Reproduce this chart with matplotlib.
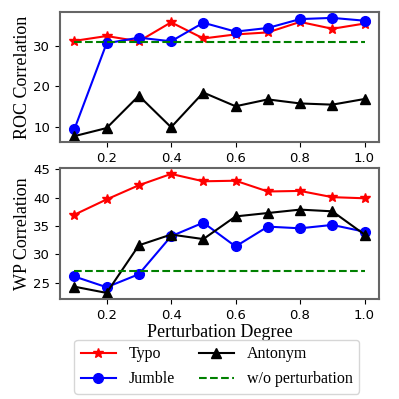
import matplotlib
matplotlib.use("Agg")
import matplotlib.pyplot as plt

degree = [0.1, 0.2, 0.3, 0.4, 0.5, 0.6, 0.7, 0.8, 0.9, 1.0]

roc_typo = [31.3, 32.5, 31.2, 35.9, 31.9, 32.9, 33.4, 36.0, 34.3, 35.6]
roc_jumble = [9.4, 30.7, 32.1, 31.2, 35.8, 33.6, 34.5, 36.7, 37.0, 36.3]
roc_antonym = [7.7, 9.7, 17.7, 9.9, 18.5, 15.1, 16.8, 15.8, 15.5, 16.9]
roc_base = 31.0

wp_typo = [37.0, 39.7, 42.2, 44.2, 42.9, 43.0, 41.1, 41.2, 40.1, 39.9]
wp_jumble = [26.1, 24.2, 26.5, 33.2, 35.6, 31.4, 34.9, 34.6, 35.2, 34.0]
wp_antonym = [24.3, 23.2, 31.6, 33.5, 32.7, 36.7, 37.3, 37.9, 37.6, 33.5]
wp_base = 27.0

serif = "Liberation Serif"

fig = plt.figure(figsize=(3.99, 3.99), dpi=100)
ax1 = fig.add_axes([0.150, 0.644, 0.800, 0.326])
ax2 = fig.add_axes([0.150, 0.251, 0.800, 0.328])


def draw(ax, typo, jumble, antonym, base, ylabel):
    ax.plot(degree, typo, color="red", marker="*", markersize=7, lw=1.5, label="Typo")
    ax.plot(degree, jumble, color="blue", marker="o", markersize=7, lw=1.5, label="Jumble")
    ax.plot(degree, antonym, color="black", marker="^", markersize=7, lw=1.5, label="Antonym")
    ax.plot(degree, [base] * len(degree), color="green", ls="--", lw=1.5, label="w/o perturbation")
    ax.set_ylabel(ylabel, fontsize=13, family=serif, labelpad=1.5)
    ax.set_xticks([0.2, 0.4, 0.6, 0.8, 1.0])
    ax.tick_params(labelsize=9.5)
    for s in ax.spines.values():
        s.set_color("#666666")
        s.set_linewidth(1.5)


draw(ax1, roc_typo, roc_jumble, roc_antonym, roc_base, "ROC Correlation")
ax1.set_yticks([10, 20, 30])
draw(ax2, wp_typo, wp_jumble, wp_antonym, wp_base, "WP Correlation")
ax2.set_yticks([25, 30, 35, 40, 45])
ax2.set_xlabel("Perturbation Degree", fontsize=13, family=serif, labelpad=2)

handles, labels = ax2.get_legend_handles_labels()
fig.legend(handles, labels,
           loc="upper center", bbox_to_anchor=(0.543, 0.148), ncol=2,
           prop={"family": serif, "size": 11.5}, columnspacing=1.5,
           handlelength=2.2, borderpad=0.4, labelspacing=0.55,
           borderaxespad=0)

fig.savefig("out.png", dpi=100)
